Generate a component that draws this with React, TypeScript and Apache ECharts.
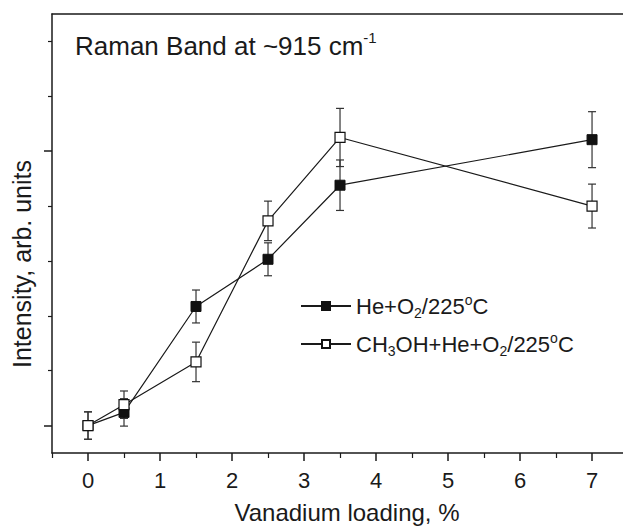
import React, { useEffect, useRef } from "react";
import * as echarts from "echarts";

const xValues = [0, 0.5, 1.5, 2.5, 3.5, 7];
const heO2 = [0, 0.24, 2.17, 3.03, 4.38, 5.21];
const heO2Err = [0.25, 0.25, 0.3, 0.3, 0.46, 0.51];
const ch3oh = [0, 0.38, 1.16, 3.73, 5.25, 4.0];
const ch3ohErr = [0.25, 0.25, 0.36, 0.36, 0.53, 0.4];

const xMajorTicks = [0, 1, 2, 3, 4, 5, 6, 7];
const xMinorTicks = [-0.5, 0.5, 1.5, 2.5, 3.5, 4.5, 5.5, 6.5];
const yMajorTicks = [0, 5];
const yMinorTicks = [1, 2, 3, 4, 6, 7];

const seriesNames = ["He+O2/225oC", "CH3OH+He+O2/225oC"];
const titleText = "Raman Band at ~915 cm";
const xName = "Vanadium loading, %";
const yName = "Intensity, arb. units";

const FONT = "'Liberation Sans', Arial, Helvetica, sans-serif";
const INK = "#1a1a1a";

function legendFormat(name: string): string {
  if (name === seriesNames[0]) {
    return "{n|He+O}{sub|2}{n|/225}{sup|o}{n|C}";
  }
  return "{n|CH}{sub|3}{n|OH+He+O}{sub|2}{n|/225}{sup|o}{n|C}";
}

function errorSeries(name: string, ys: number[], errs: number[]) {
  return {
    type: "custom",
    name: name + "_err",
    z: 1,
    silent: true,
    data: xValues.map((x, i) => [x, ys[i], errs[i]]),
    encode: { x: 0, y: 1 },
    renderItem: (params: any, api: any) => {
      const x = api.value(0);
      const y = api.value(1);
      const e = api.value(2);
      const top = api.coord([x, y + e]);
      const bot = api.coord([x, y - e]);
      const hw = 4;
      const style = { stroke: "#333", lineWidth: 1.2 };
      return {
        type: "group",
        children: [
          { type: "line", shape: { x1: top[0], y1: top[1], x2: bot[0], y2: bot[1] }, style },
          { type: "line", shape: { x1: top[0] - hw, y1: top[1], x2: top[0] + hw, y2: top[1] }, style },
          { type: "line", shape: { x1: bot[0] - hw, y1: bot[1], x2: bot[0] + hw, y2: bot[1] }, style },
        ],
      };
    },
  };
}

export default function App() {
  const ref = useRef<HTMLDivElement>(null);
  useEffect(() => {
    if (!ref.current) return;
    const chart = echarts.init(ref.current, null, { renderer: "svg" });
    const axisLine = { show: true, onZero: false, lineStyle: { color: INK, width: 1.5 } };
    const noLine = { show: false, onZero: false };
    const option: any = {
      animation: false,
      backgroundColor: "#ffffff",
      grid: { left: 52, right: 0, top: 14, bottom: 73 },
      xAxis: [
        {
          type: "value",
          position: "bottom",
          min: -0.5,
          max: 7.43,
          axisLine,
          axisTick: { show: true, customValues: xMajorTicks, length: 8, lineStyle: { color: INK, width: 1.5 } },
          axisLabel: {
            show: true,
            customValues: xMajorTicks,
            margin: 16,
            fontSize: 22,
            fontFamily: FONT,
            color: INK,
          },
          splitLine: { show: false },
        },
        {
          type: "value",
          position: "bottom",
          min: -0.5,
          max: 7.43,
          axisLine: noLine,
          axisTick: { show: true, customValues: xMinorTicks, length: 5, lineStyle: { color: INK, width: 1.2 } },
          axisLabel: { show: false },
          splitLine: { show: false },
        },
        {
          type: "value",
          position: "top",
          min: -0.5,
          max: 7.43,
          axisLine,
          axisTick: { show: false },
          axisLabel: { show: false },
          splitLine: { show: false },
        },
      ],
      yAxis: [
        {
          type: "value",
          position: "left",
          min: -0.5,
          max: 7.5,
          axisLine,
          axisTick: { show: true, customValues: yMajorTicks, length: 8, lineStyle: { color: INK, width: 1.5 } },
          axisLabel: { show: false },
          splitLine: { show: false },
        },
        {
          type: "value",
          position: "left",
          min: -0.5,
          max: 7.5,
          axisLine: noLine,
          axisTick: { show: true, customValues: yMinorTicks, length: 4, lineStyle: { color: INK, width: 1.2 } },
          axisLabel: { show: false },
          splitLine: { show: false },
        },
      ],
      legend: {
        show: true,
        orient: "vertical",
        left: 295,
        top: 288,
        itemWidth: 50,
        itemHeight: 10,
        itemGap: 11,
        data: seriesNames,
        formatter: legendFormat,
        textStyle: {
          fontFamily: FONT,
          color: INK,
          fontSize: 22,
          rich: {
            n: { fontSize: 22, fontFamily: FONT, color: INK },
            sub: { fontSize: 14, fontFamily: FONT, color: INK, padding: [14, 0, 0, 0] },
            sup: { fontSize: 14, fontFamily: FONT, color: INK, padding: [0, 0, 12, 0] },
          },
        },
      },
      graphic: [
        {
          type: "text",
          left: 75,
          top: 30,
          style: {
            text: "{t|" + titleText + "}{sup|-1}",
            rich: {
              t: { fontSize: 26, fontFamily: FONT, fill: INK },
              sup: { fontSize: 15, fontFamily: FONT, fill: INK, padding: [0, 0, 16, 0] },
            },
          },
        },
        {
          type: "text",
          x: 347,
          y: 512,
          style: {
            text: xName,
            fontSize: 24,
            fontFamily: FONT,
            fill: INK,
            align: "center",
            verticalAlign: "middle",
          },
        },
        {
          type: "text",
          x: 22,
          y: 264,
          rotation: Math.PI / 2,
          style: {
            text: yName,
            fontSize: 25,
            fontFamily: FONT,
            fill: INK,
            align: "center",
            verticalAlign: "middle",
          },
        },
      ],
      series: [
        errorSeries(seriesNames[0], heO2, heO2Err),
        errorSeries(seriesNames[1], ch3oh, ch3ohErr),
        {
          type: "line",
          name: seriesNames[0],
          z: 3,
          data: xValues.map((x, i) => [x, heO2[i]]),
          symbol: "rect",
          symbolSize: 10,
          showAllSymbol: true,
          lineStyle: { color: INK, width: 1.2 },
          itemStyle: { color: "#111", borderColor: "#111", borderWidth: 1 },
        },
        {
          type: "line",
          name: seriesNames[1],
          z: 4,
          data: xValues.map((x, i) => [x, ch3oh[i]]),
          symbol: "rect",
          symbolSize: 10,
          showAllSymbol: true,
          lineStyle: { color: INK, width: 1.2 },
          itemStyle: { color: "#ffffff", borderColor: "#111", borderWidth: 1.2 },
        },
      ],
    };
    chart.setOption(option);
    return () => chart.dispose();
  }, []);
  return (
    <div
      ref={ref}
      style={{ position: "absolute", left: 0, top: 0, width: 623, height: 526, background: "#fff" }}
    />
  );
}
